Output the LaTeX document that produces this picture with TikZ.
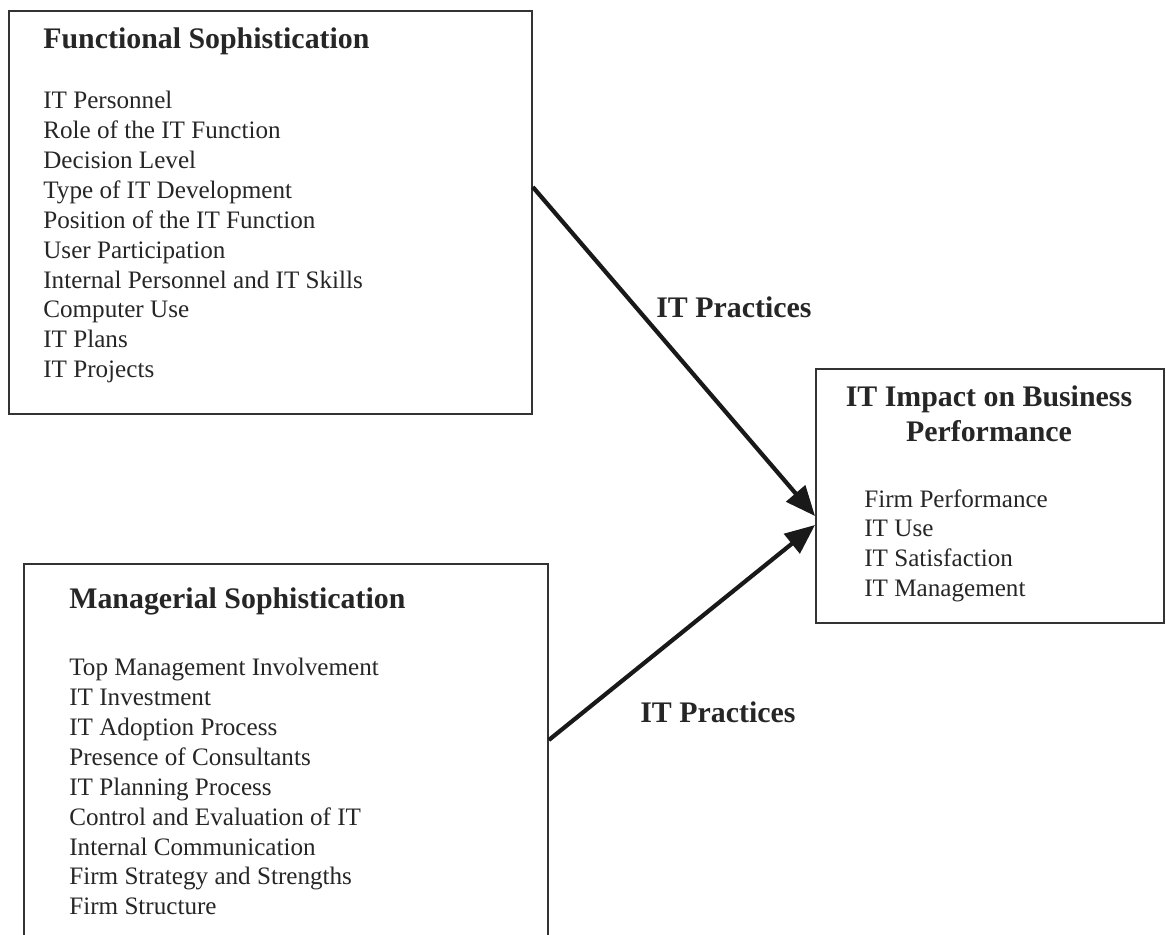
\documentclass[tikz,border=0pt]{standalone}
\usepackage{fontspec}
\setmainfont{Liberation Serif}
\usetikzlibrary{arrows.meta,calc}

\begin{document}
\begin{tikzpicture}[x=0.02cm,y=-0.02cm,
        box/.style={draw=black!80,line width=1.1pt,anchor=north west,inner sep=0pt},
        heading/.style={font=\fontsize{17}{20.4}\selectfont\bfseries,text=black!85,inner sep=0pt},
        items/.style={font=\fontsize{14.3}{17}\selectfont,text=black!85,align=left,anchor=north west,inner sep=0pt},
        practice/.style={-{Triangle[length=17pt,width=14pt]},line width=2.4pt,draw=black!90}]

    \path[use as bounding box,clip] (0,0) rectangle (1166,934);

    % Functional sophistication
    \node[box,minimum width=10.46cm,minimum height=8.06cm] (func) at (8,10) {};
    \node[heading,anchor=base west] (funchead) at (43,48) {Functional Sophistication};
    \node[items] (funclist) at (43,91) {IT Personnel\\Role of the IT Function\\Decision Level\\Type of IT Development\\Position of the IT Function\\User Participation\\Internal Personnel and IT Skills\\Computer Use\\IT Plans\\IT Projects};

    % Managerial sophistication
    \node[box,minimum width=10.48cm,minimum height=8.4cm] (mgmt) at (23,563) {};
    \node[heading,anchor=base west] (mgmthead) at (69,608) {Managerial Sophistication};
    \node[items] (mgmtlist) at (69,658) {Top Management Involvement\\IT Investment\\IT Adoption Process\\Presence of Consultants\\IT Planning Process\\Control and Evaluation of IT\\Internal Communication\\Firm Strategy and Strengths\\Firm Structure};

    % IT impact
    \node[box,minimum width=6.96cm,minimum height=5.08cm] (impact) at (815,368) {};
    \node[heading,align=center,anchor=north] (impacthead) at (989,385) {IT Impact on Business\\Performance};
    \node[items] (impactlist) at (864,489) {Firm Performance\\IT Use\\IT Satisfaction\\IT Management};

    % Arrows
    \draw[practice] ($(func.north east)+(0,177)$) -- ($(impact.north west)+(0,148)$);
    \draw[practice] ($(mgmt.north east)+(0,177)$) -- ($(impact.north west)+(0,157)$);
    \node[heading,anchor=base west] (prac1) at (656,317) {IT Practices};
    \node[heading,anchor=base west] (prac2) at (640,722) {IT Practices};
\end{tikzpicture}
\end{document}
